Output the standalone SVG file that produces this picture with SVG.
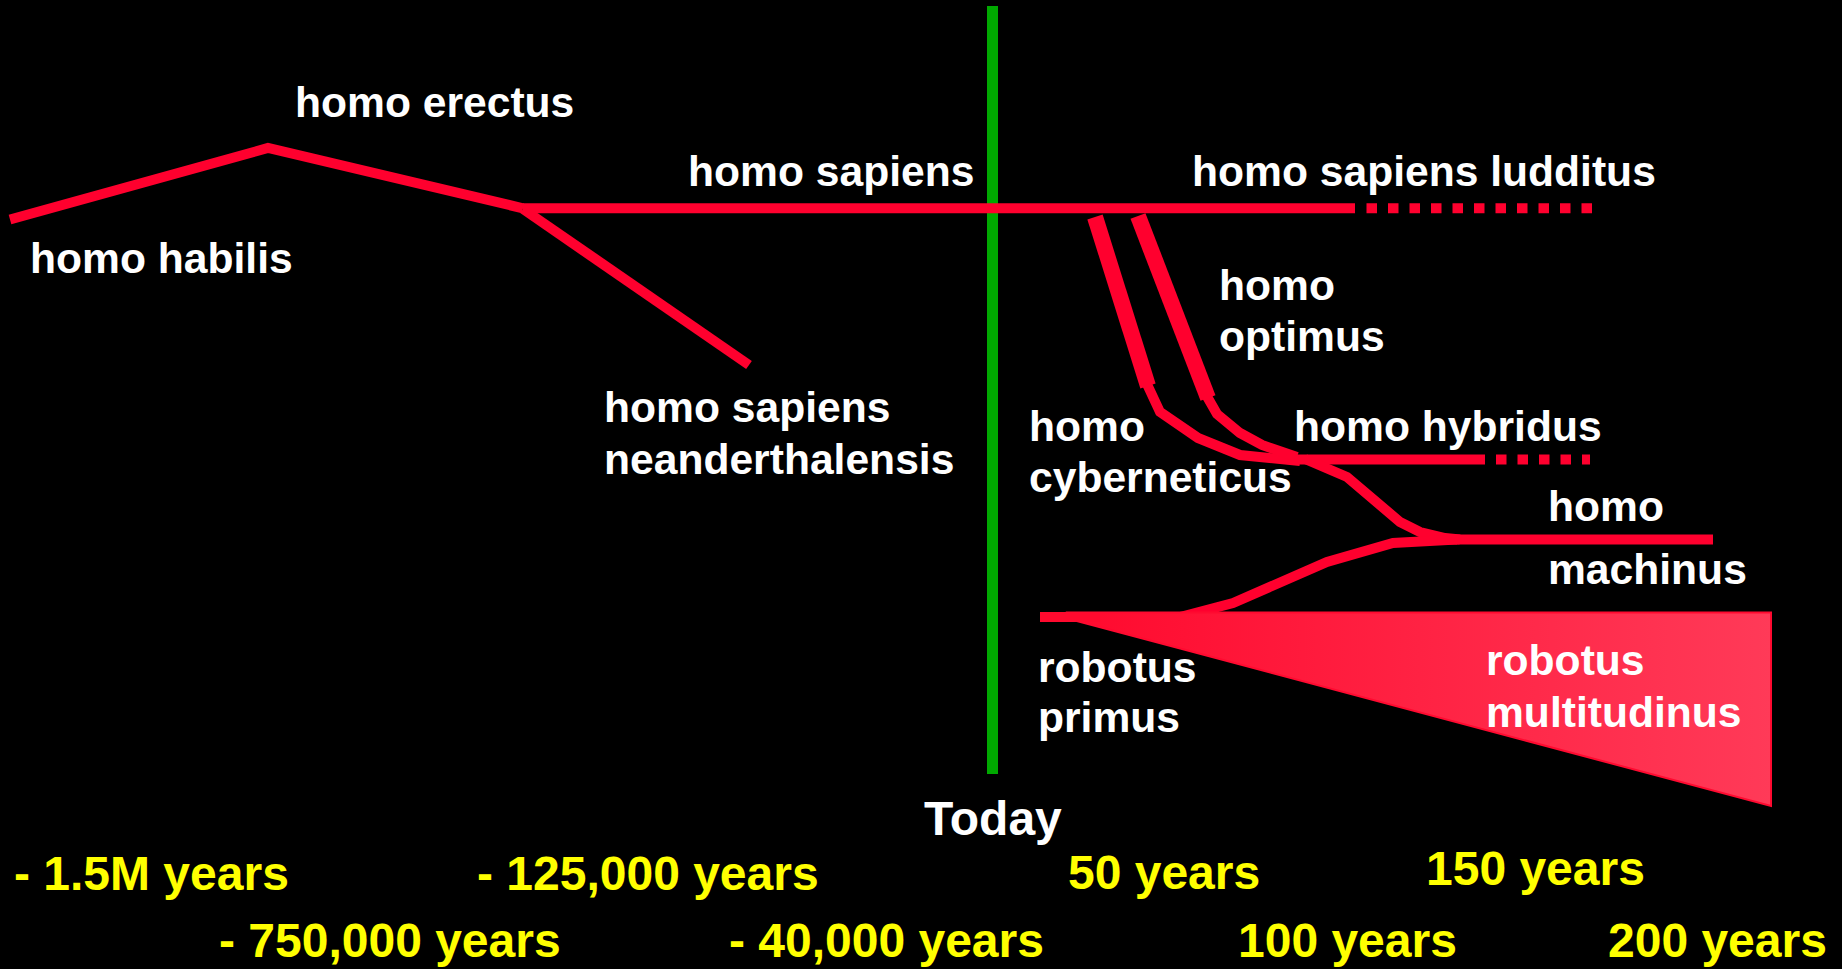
<svg xmlns="http://www.w3.org/2000/svg" width="1842" height="969" viewBox="0 0 1842 969">
<defs>
<style>
.lbl{font-family:"Liberation Sans",Arial,sans-serif;font-weight:bold;font-size:42.6px;fill:#ffffff}
.big{font-size:48px}
.yr{font-family:"Liberation Sans",Arial,sans-serif;font-weight:bold;font-size:48px;fill:#ffff00}
.ln{fill:none;stroke:#ff002e;stroke-width:10;stroke-linejoin:miter;stroke-linecap:butt}
.thick{stroke-width:16}
.dash{stroke-dasharray:10.5 11}
</style>
<linearGradient id="tri" x1="0" y1="0" x2="1" y2="0">
<stop offset="0" stop-color="#ff0a2e"/>
<stop offset="1" stop-color="#ff3a58"/>
</linearGradient>
</defs>
<rect x="0" y="0" width="1842" height="969" fill="#000000"/>
<g id="today-line"><rect x="987" y="6" width="11" height="768" fill="#00a800"/></g>
<g id="connectors">
<polyline class="ln" points="10,219.5 268,148 523,208.3"/>
<line class="ln" x1="523" y1="208.3" x2="1355" y2="208.3"/>
<line class="ln dash" x1="1366.5" y1="208.3" x2="1592" y2="208.3"/>
<line class="ln" x1="523" y1="209" x2="749" y2="365"/>
<line class="ln thick" x1="1095" y1="217" x2="1148" y2="386"/>
<line class="ln thick" x1="1138" y1="216" x2="1208" y2="398"/>
<polyline class="ln" points="1146,382 1160,412 1198,438 1240,455 1300,461"/>
<polyline class="ln" points="1205,393 1217,414 1240,433 1262,445 1297,457"/>
<line class="ln" x1="1293" y1="459.5" x2="1485" y2="459.5"/>
<line class="ln dash" x1="1496" y1="459.5" x2="1590" y2="459.5"/>
<polyline class="ln" points="1305,459 1347,477 1400,522 1420,532 1445,538 1460,539.5"/>
<line class="ln" x1="1440" y1="539.5" x2="1713" y2="539.5"/>
<polyline class="ln" points="1180,617 1233,603 1327,562 1393,543 1457,539.5"/>
</g>
<g id="robotus-multitudinus">
<polygon points="1068,612.5 1771,612.5 1771,806 1077,621" fill="url(#tri)" stroke="#ff0a30" stroke-width="2"/>
</g>
<g id="robotus-primus-bar"><rect x="1040" y="612" width="60" height="10" fill="#ff0a2e"/></g>
<g id="labels">
<g id="homo-erectus"><text class="lbl" x="295" y="117">homo erectus</text></g>
<g id="homo-habilis"><text class="lbl" x="30" y="273">homo habilis</text></g>
<g id="homo-sapiens"><text class="lbl" x="688" y="186">homo sapiens</text></g>
<g id="neanderthalensis"><text class="lbl" x="604" y="422">homo sapiens</text><text class="lbl" x="604" y="474">neanderthalensis</text></g>
<g id="ludditus"><text class="lbl" x="1192" y="186">homo sapiens ludditus</text></g>
<g id="optimus"><text class="lbl" x="1219" y="300">homo</text><text class="lbl" x="1219" y="351">optimus</text></g>
<g id="cyberneticus"><text class="lbl" x="1029" y="441">homo</text><text class="lbl" x="1029" y="492">cyberneticus</text></g>
<g id="hybridus"><text class="lbl" x="1294" y="441">homo hybridus</text></g>
<g id="machinus"><text class="lbl" x="1548" y="521">homo</text><text class="lbl" x="1548" y="584">machinus</text></g>
<g id="robotus-primus"><text class="lbl" x="1038" y="682">robotus</text><text class="lbl" x="1038" y="732">primus</text></g>
<g id="multitudinus-label"><text class="lbl" x="1486" y="675">robotus</text><text class="lbl" x="1486" y="727">multitudinus</text></g>
<g id="today"><text class="lbl big" x="924" y="835">Today</text></g>
</g>
<g id="years">
<text class="yr" x="14" y="890">- 1.5M years</text>
<text class="yr" x="477" y="890">- 125,000 years</text>
<text class="yr" x="1068" y="889">50 years</text>
<text class="yr" x="1426" y="885">150 years</text>
<text class="yr" x="219" y="957">- 750,000 years</text>
<text class="yr" x="729" y="957">- 40,000 years</text>
<text class="yr" x="1238" y="957">100 years</text>
<text class="yr" x="1608" y="957">200 years</text>
</g>
</svg>
